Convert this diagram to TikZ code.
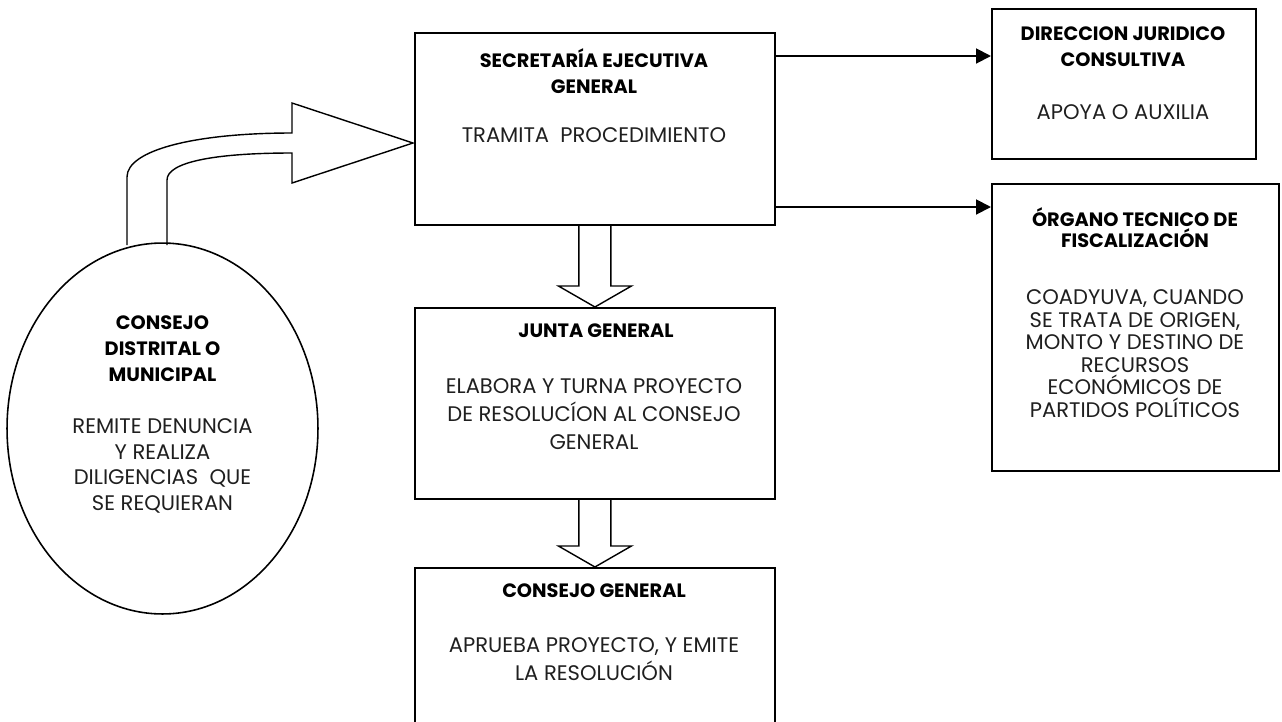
\documentclass[tikz,border=0pt]{standalone}
\usepackage{fontspec}
\setmainfont{Poppins}
\usetikzlibrary{
  arrows.meta,
  positioning,
  calc,
  shapes.geometric,
}

\begin{document}
\begin{tikzpicture}[
  x=0.02cm, y=-0.02cm,
  every node/.style={align=center},
  box/.style={draw=black, line width=1.1pt, anchor=north west, inner sep=0pt},
  ttl/.style={font=\fontsize{11pt}{#1}\selectfont\bfseries, inner sep=0pt},
  ttl/.default=15pt,
  txt/.style={font=\fontsize{12pt}{#1}\selectfont, text=black!88, inner sep=0pt},
  txt/.default=15.9pt,
  arrow/.style={-{Triangle[length=8.5pt,width=8.5pt]}, line width=1.1pt},
  blockarrow/.style={draw=black, line width=0.8pt, line join=miter},
]
\useasboundingbox (0,0) rectangle (1282,721);

\node[box, minimum width=7.2cm,  minimum height=3.84cm] (sec)   at (414,32)  {};
\node[box, minimum width=5.28cm, minimum height=3.0cm]  (dir)   at (991,8)   {};
\node[box, minimum width=5.74cm, minimum height=5.74cm] (org)   at (991,183) {};
\node[box, minimum width=7.2cm,  minimum height=3.82cm] (junta) at (414,307) {};
\node[box, minimum width=7.2cm,  minimum height=3.2cm]  (cg)    at (414,567) {};
\node[draw=black, ellipse, line width=0.9pt, inner sep=0pt,
      minimum width=6.22cm, minimum height=7.42cm] (cdm) at (162.5,428.5) {};

% texts
\node[ttl] (sec-t) at (594,71) {SECRETARÍA EJECUTIVA\\GENERAL};
\node[txt] (sec-b) at (594,135) {TRAMITA\ \ PROCEDIMIENTO};
\node[ttl] (dir-t) at (1123,46.5) {DIRECCION JURIDICO\\CONSULTIVA};
\node[txt] (dir-b) at (1123,112) {APOYA O AUXILIA};
\node[ttl=12pt] (org-t) at (1135,228) {ÓRGANO TECNICO DE\\FISCALIZACIÓN};
\node[txt=12.8pt] (org-b) at (1135,353.5)
  {COADYUVA, CUANDO\\SE TRATA DE ORIGEN,\\MONTO Y DESTINO DE\\RECURSOS\\
   ECONÓMICOS DE\\PARTIDOS POLÍTICOS};
\node[ttl] (junta-t) at (596,331) {JUNTA GENERAL};
\node[txt] (junta-b) at (594,414)
  {ELABORA Y TURNA PROYECTO\\DE RESOLUCÍON AL CONSEJO\\GENERAL};
\node[ttl] (cg-t) at (594,591) {CONSEJO GENERAL};
\node[txt] (cg-b) at (594,659) {APRUEBA PROYECTO, Y EMITE\\LA RESOLUCIÓN};
\node[ttl=14.7pt] (cdm-t) at (162.5,349) {CONSEJO\\DISTRITAL O\\MUNICIPAL};
\node[txt=14.7pt] (cdm-b) at (162.5,466)
  {REMITE DENUNCIA\\Y REALIZA\\DILIGENCIAS\ \ QUE\\SE REQUIERAN};

% connectors
\coordinate (r1) at (774,56);
\coordinate (r2) at (774,207);
\draw[arrow] (r1) -- (r1 -| dir.west);
\draw[arrow] (r2) -- (r2 -| org.west);

\foreach \a/\b in {sec/junta, junta/cg}{
  \draw[blockarrow]
    ([xshift=-0.32cm]\a.south) -- ([xshift=-0.32cm,yshift=0.42cm]\b.north)
    -- ([xshift=-0.73cm,yshift=0.42cm]\b.north) -- (\b.north)
    -- ([xshift=0.73cm,yshift=0.42cm]\b.north)
    -- ([xshift=0.32cm,yshift=0.42cm]\b.north) -- ([xshift=0.32cm]\a.south);
}

\draw[blockarrow] (127,245) -- (127,177) .. controls (127,150) and (195,133) .. (292,133)
  -- (292,103) -- (413,143) -- (292,183) -- (292,153)
  .. controls (215,153) and (167,162) .. (167,180) -- (167,245);

\end{tikzpicture}
\end{document}
